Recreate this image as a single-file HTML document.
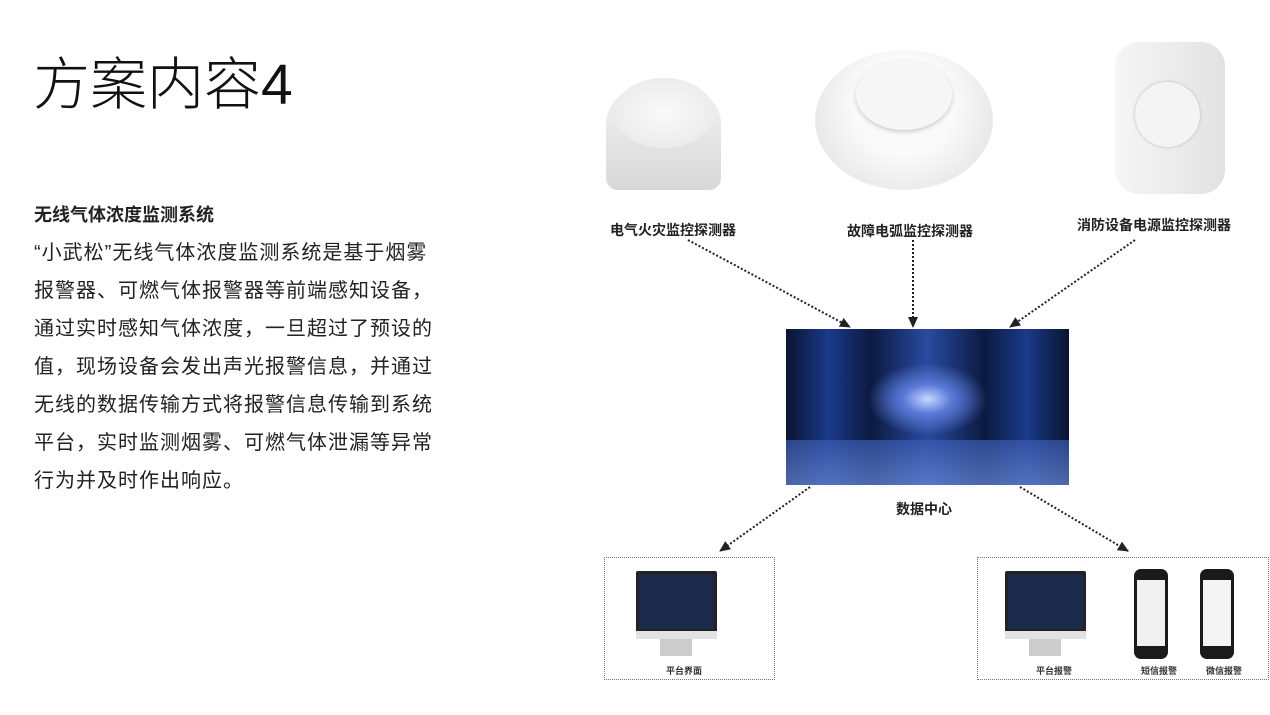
<!DOCTYPE html>
<html><head><meta charset="utf-8"><style>
body{margin:0;width:1270px;height:715px;background:#fff;position:relative;overflow:hidden;font-family:"Liberation Sans","Noto Sans CJK SC",sans-serif;color:#222}
.a{position:absolute}
.t{left:33px;top:50px;font-size:57px;font-weight:200;line-height:70px;color:#111}
.h{left:34px;top:203px;font-size:18px;font-weight:bold;line-height:24px}
.b{left:34px;top:234px;font-size:20px;line-height:38px;white-space:nowrap;letter-spacing:1px}
.lbl{font-size:14px;font-weight:bold;color:#222;white-space:nowrap}
.sm{font-size:9px;font-weight:bold;color:#333;white-space:nowrap}
.box{border:1px dotted #777}
.mon{background:#1b2a4a;border:3px solid #222;border-radius:2px}
.ph{background:#1a1a1a;border-radius:7px}
</style></head><body>
<div class="a t">方案内容4</div>
<div class="a h">无线气体浓度监测系统</div>
<div class="a b">“小武松”无线气体浓度监测系统是基于烟雾<br>报警器、可燃气体报警器等前端感知设备，<br>通过实时感知气体浓度，一旦超过了预设的<br>值，现场设备会发出声光报警信息，并通过<br>无线的数据传输方式将报警信息传输到系统<br>平台，实时监测烟雾、可燃气体泄漏等异常<br>行为并及时作出响应。</div>

<div class="a" style="left:606px;top:80px;width:115px;height:110px;border-radius:50% 50% 12px 12px/40% 40% 12px 12px;background:linear-gradient(#f4f4f4,#d8d8d8)"></div>
<div class="a" style="left:614px;top:78px;width:100px;height:70px;border-radius:50%;background:radial-gradient(#fafafa,#e6e6e6)"></div>
<div class="a" style="left:815px;top:50px;width:178px;height:140px;border-radius:50%;background:radial-gradient(circle at 50% 40%,#fafafa 40%,#dcdcdc)"></div>
<div class="a" style="left:856px;top:60px;width:96px;height:70px;border-radius:50%;background:#f6f6f6;box-shadow:0 2px 4px #ccc"></div>
<div class="a" style="left:1115px;top:42px;width:110px;height:152px;border-radius:24px;background:linear-gradient(90deg,#f6f6f6,#e2e2e2)"></div>
<div class="a" style="left:1135px;top:82px;width:65px;height:65px;border-radius:50%;background:#f4f4f4;box-shadow:0 0 3px #bbb"></div>
<div class="a lbl" style="left:610px;top:220px">电气火灾监控探测器</div>
<div class="a lbl" style="left:847px;top:221px">故障电弧监控探测器</div>
<div class="a lbl" style="left:1077px;top:215px">消防设备电源监控探测器</div>

<div class="a" style="left:786px;top:329px;width:283px;height:156px;background:
radial-gradient(ellipse at 50% 45%,#c8d8ff 0,#5a7ad8 12%,transparent 30%),
linear-gradient(90deg,#0a1430 0,#1a3a8a 15%,#0b1a40 30%,#2a4aa0 50%,#0b1a40 70%,#1a3a8a 85%,#0a1430 100%)"></div>
<div class="a" style="left:786px;top:440px;width:283px;height:45px;background:linear-gradient(#3a5ab0,#6a8ad8);opacity:.7"></div>
<div class="a lbl" style="left:896px;top:499px">数据中心</div>

<svg class="a" style="left:0;top:0" width="1270" height="715">
<defs><marker id="m" markerUnits="userSpaceOnUse" markerWidth="12" markerHeight="12" refX="10" refY="6" orient="auto"><path d="M0,1 L11,6 L0,11z" fill="#222"/></marker></defs>
<g stroke="#222" stroke-width="2" stroke-dasharray="2 2" fill="none" marker-end="url(#m)">
<line x1="688" y1="240" x2="850" y2="327"/>
<line x1="913" y1="240" x2="913" y2="327"/>
<line x1="1135" y1="240" x2="1010" y2="327"/>
<line x1="810" y1="487" x2="720" y2="551"/>
<line x1="1020" y1="487" x2="1128" y2="551"/>
</g></svg>

<div class="a box" style="left:604px;top:557px;width:169px;height:121px"></div>
<div class="a box" style="left:977px;top:557px;width:290px;height:121px"></div>

<div class="a mon" style="left:636px;top:571px;width:75px;height:55px"></div>
<div class="a" style="left:636px;top:631px;width:81px;height:8px;background:#e2e2e2"></div>
<div class="a" style="left:660px;top:639px;width:32px;height:17px;background:#ccc"></div>
<div class="a sm" style="left:666px;top:664px">平台界面</div>

<div class="a mon" style="left:1005px;top:571px;width:75px;height:55px"></div>
<div class="a" style="left:1005px;top:631px;width:81px;height:8px;background:#e2e2e2"></div>
<div class="a" style="left:1029px;top:639px;width:32px;height:17px;background:#ccc"></div>
<div class="a sm" style="left:1036px;top:664px">平台报警</div>

<div class="a ph" style="left:1134px;top:569px;width:34px;height:90px"></div>
<div class="a" style="left:1137px;top:580px;width:28px;height:66px;background:#f0f0f0"></div>
<div class="a sm" style="left:1141px;top:664px">短信报警</div>
<div class="a ph" style="left:1200px;top:569px;width:34px;height:90px"></div>
<div class="a" style="left:1203px;top:580px;width:28px;height:66px;background:#f4f4f4"></div>
<div class="a sm" style="left:1206px;top:664px">微信报警</div>
</body></html>
